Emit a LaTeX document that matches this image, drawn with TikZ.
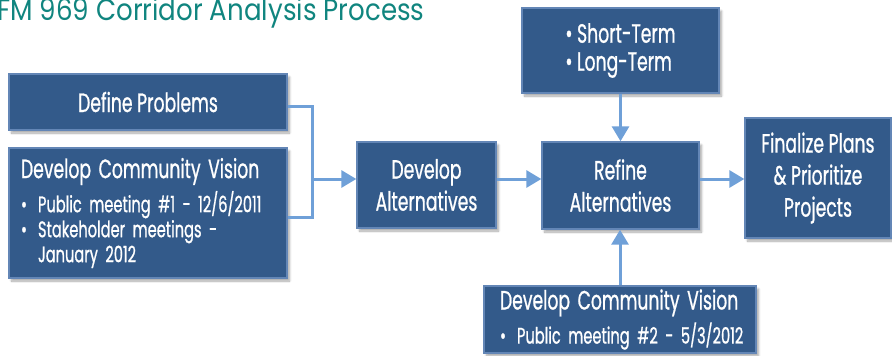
\documentclass[tikz,border=0pt]{standalone}
\usepackage{fontspec}
\setmainfont[FakeStretch=0.65,FakeBold=0.8]{Poppins}
\newfontfamily\titlefont[FakeStretch=0.87]{Poppins}
\usetikzlibrary{arrows.meta,shadows.blur,calc}
\definecolor{boxfill}{HTML}{335A8A}
\definecolor{boxedge}{HTML}{6386B6}
\definecolor{arrowc}{HTML}{6FA0D8}
\definecolor{titlec}{HTML}{10857F}
\begin{document}
\begin{tikzpicture}[x=1pt,y=-1pt,
  box/.style={draw=boxedge, line width=1.4pt, fill=boxfill, text=white,
    blur shadow={shadow xshift=2.5pt,shadow yshift=-3pt,shadow blur steps=7,shadow opacity=35},
    inner sep=0pt, align=center, font=\fontsize{26.5}{32}\selectfont},
  leftbox/.style={box, align=left, inner xsep=#1, font=\fontsize{22.5}{25}\selectfont},
  conn/.style={draw=arrowc, line width=3pt},
  arr/.style={conn, -{Triangle[length=15pt,width=17pt]}},
]
\useasboundingbox (0,0) rectangle (892,356);
\newcommand{\bul}{\makebox[17pt][l]{\textbullet}}
\node[anchor=base east, text=titlec, font=\titlefont\fontsize{30}{30}\selectfont] (title) at (428,20) {FM 969 Corridor Analysis Process};

\node[box, minimum width=278pt, minimum height=56pt] (dp) at (148,102) {Define Problems};
\node[leftbox=12pt, text width=254pt, minimum height=130pt] (dcv) at (148,213)
  {{\fontsize{26.5}{30}\selectfont Develop Community Vision}\\[5pt]
   \bul Public meeting \#1 - 12/6/2011\\
   \bul Stakeholder meetings -\\
   \hspace*{17pt}January 2012};
\node[box, minimum width=139pt, minimum height=86pt] (da) at (426.5,185) {Develop\\Alternatives};
\node[box, minimum width=157pt, minimum height=87pt] (ra) at (620.5,185.5) {Refine\\Alternatives};
\node[box, minimum width=197pt, minimum height=85pt, align=left, font=\fontsize{26.5}{28}\selectfont] (st) at (620.5,50.5) {\textbullet\ Short-Term\\\textbullet\ Long-Term};
\node[box, minimum width=146pt, minimum height=120pt] (fp) at (818,178) {Finalize Plans\\\& Prioritize\\Projects};
\node[leftbox=16pt, text width=240pt, minimum height=67pt] (dcv2) at (620,319.5)
  {{\fontsize{26.5}{30}\selectfont\mbox{Develop Community Vision}}\\[5pt]
   \bul\mbox{Public meeting \#2 - 5/3/2012}};

\coordinate (j) at (312,179);
\draw[arr] ($(dp.east)+(0,4)$) -| (j) -- (j -| da.west);
\draw[conn] ($(dcv.east)+(0,4)$) -| (j);
\draw[arr] (da.east |- j) -- (ra.west |- j);
\draw[arr] (ra.east |- j) -- (fp.west |- j);
\draw[arr] (st.south) -- (ra.north);
\draw[arr] (dcv2.north) -- (dcv2.north |- ra.south);
\end{tikzpicture}
\end{document}
